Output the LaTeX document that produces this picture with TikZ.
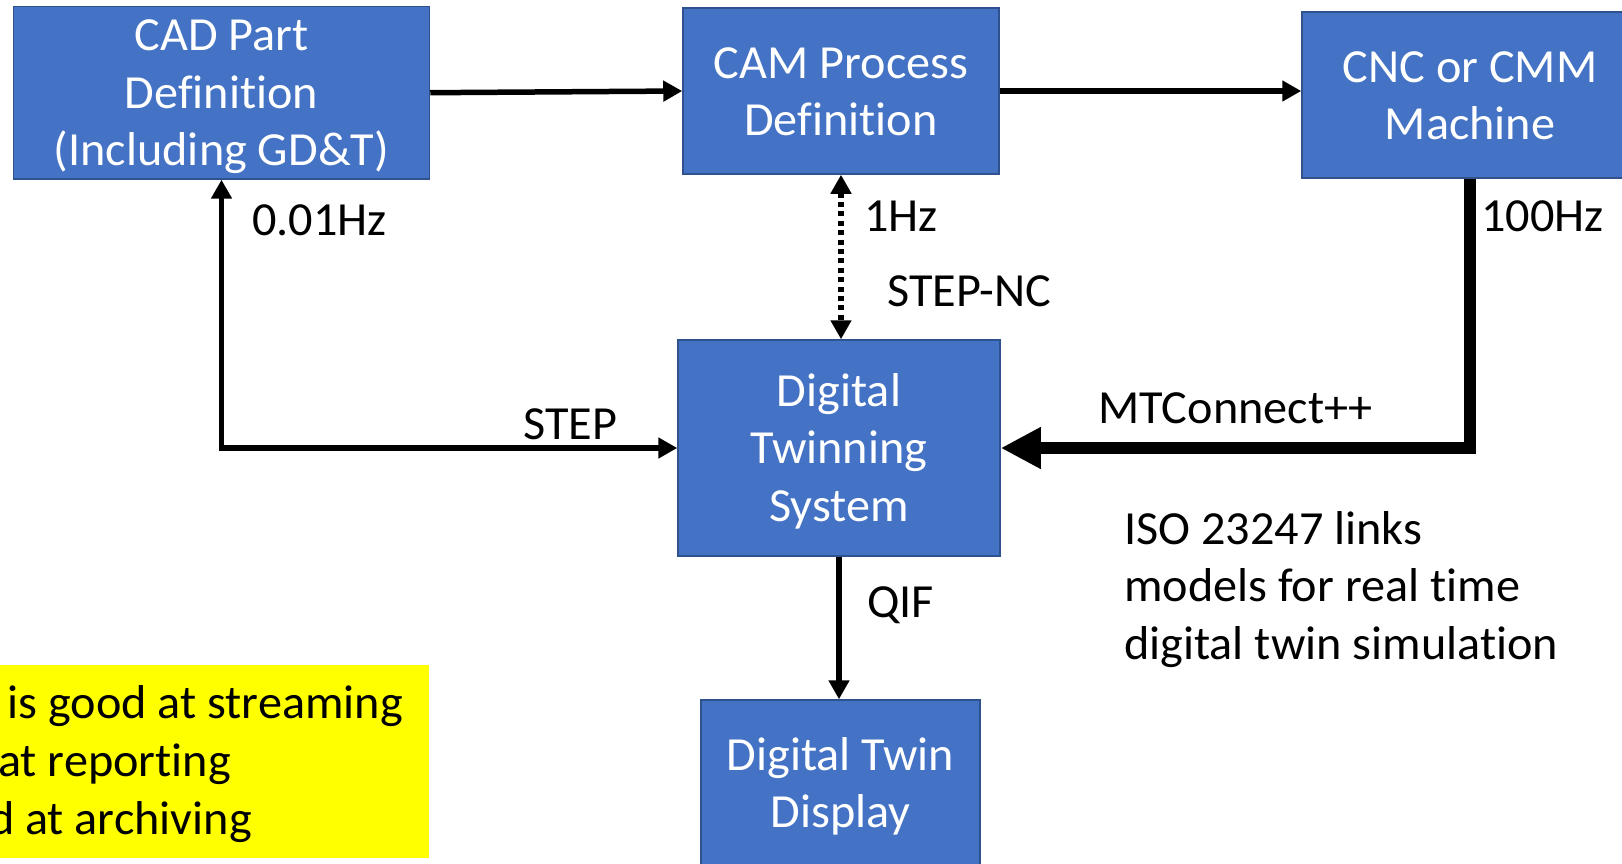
\documentclass[tikz,border=0pt]{standalone}
\usepackage{fontspec}
\setmainfont{Carlito}[Ligatures={NoCommon}, FakeStretch=1.015]
\usetikzlibrary{arrows.meta}
\definecolor{boxblue}{HTML}{4472C4}
\definecolor{boxedge}{HTML}{2F528F}
\definecolor{hiyellow}{HTML}{FFFF00}
\newcommand\lnstrut{\rule[-13pt]{0pt}{57.5pt}}
\begin{document}
\begin{tikzpicture}[x=1pt,y=1pt,
  every node/.style={font=\fontsize{47.5}{57.5}\selectfont, inner sep=0pt},
  blockbox/.style={draw=boxedge, line width=1.5pt, fill=boxblue, text=white, align=center},
  lbl/.style={anchor=base west, text=black},
  thinline/.style={line width=5.5pt},
  thinarrow/.style={thinline, -{Triangle[length=19pt,width=20pt]}},
  dotline/.style={line width=5.5pt, dash pattern=on 5pt off 4.4pt},
  thickarrow/.style={line width=12.5pt, -{Triangle[length=40pt,width=39pt]}}
]
\useasboundingbox (0,0) rectangle (1622,-863);
\clip (0,0) rectangle (1622,-863);

% boxes
\node[blockbox, minimum width=416pt, minimum height=171pt] (cad) at (221.5,-92.7)
  {\lnstrut CAD Part\\\lnstrut Definition\\\lnstrut (Including GD\&T)};
\node[blockbox, minimum width=316pt, minimum height=166pt] (cam) at (841,-91)
  {\lnstrut CAM Process\\\lnstrut Definition};
\node[blockbox, minimum width=336pt, minimum height=166pt] (cnc) at (1470,-95)
  {\lnstrut CNC or CMM\\\lnstrut Machine};
\node[blockbox, minimum width=322pt, minimum height=216pt] (dt) at (839,-448)
  {\lnstrut Digital\\\lnstrut Twinning\\\lnstrut System};
\node[blockbox, minimum width=279pt, minimum height=166pt] (disp) at (840.5,-783)
  {\lnstrut Digital Twin\\\lnstrut Display};

% yellow note
\node[fill=hiyellow, minimum width=439pt, minimum height=193pt] (note) at (209.5,-761.5) {};
\node[anchor=base east] (y1) at (403,-718) {is good at streaming};
\node[anchor=base east] (y2) at (231,-776) {at reporting};
\node[anchor=base east] (y3) at (252,-834) {d at archiving};

% labels
\node[lbl] (f1) at (252,-235) {0.01Hz};
\node[lbl] (f2) at (864,-231) {1Hz};
\node[lbl] (snc) at (887,-306.7) {STEP-NC};
\node[lbl] (f3) at (1481,-231) {100Hz};
\node[lbl] (stp) at (523,-439) {STEP};
\node[lbl] (mtc) at (1098,-423) {MTConnect++};
\node[lbl] (qif) at (867,-617) {QIF};
\node[anchor=north west, align=left] (iso) at (1124,-499.5)
  {\lnstrut ISO 23247 links\\\lnstrut models for real time\\\lnstrut digital twin simulation};

% connectors
\draw[thinarrow] (cad.east) -- (cam.west);
\draw[thinarrow] (cam.east) -- (cam.east -| cnc.west);
\draw[thinline, {Triangle[length=19pt,width=20pt]}-{Triangle[length=19pt,width=20pt]}] (cad.south) |- (dt.west);
\draw[dotline, {Triangle[length=19pt,width=20pt]}-{Triangle[length=19pt,width=20pt]}] (cam.south) -- (cam.south |- dt.north);
\draw[thinarrow] (dt.south) -- (dt.south |- disp.north);
\draw[thickarrow] (cnc.south) |- (dt.east);
\end{tikzpicture}
\end{document}
